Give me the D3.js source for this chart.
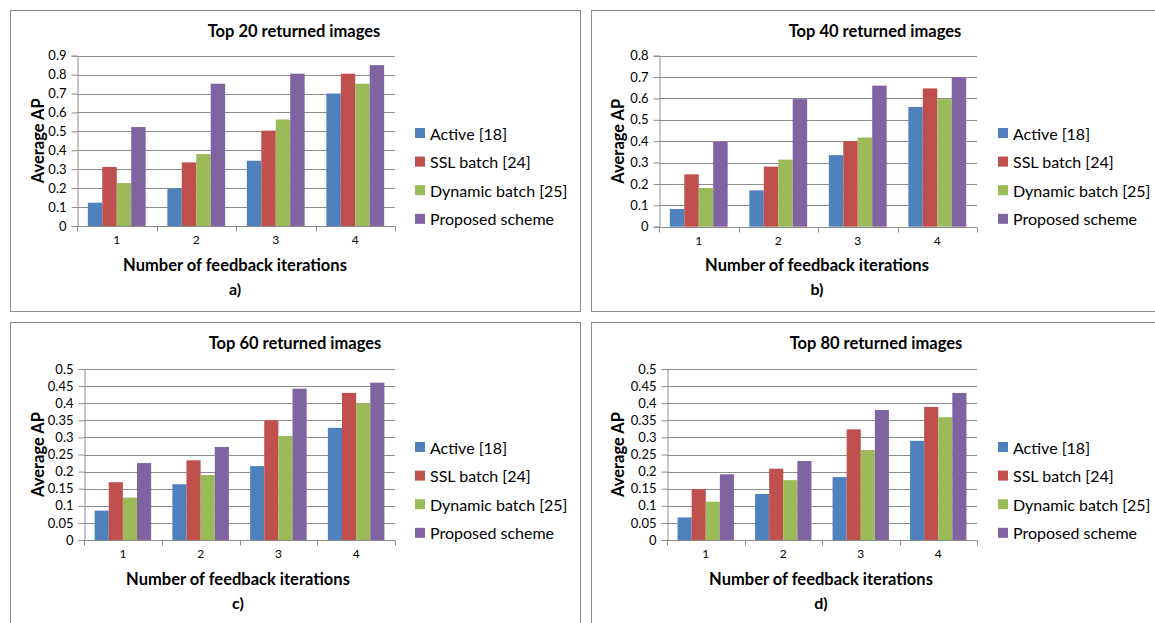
<!DOCTYPE html>
<html>
<head>
<meta charset="utf-8">
<script src="https://cdn.jsdelivr.net/npm/d3@7"></script>
<style>
  html, body { margin: 0; padding: 0; background: #fff; }
  svg { display: block; }
  text { font-family: Lato, "Open Sans", sans-serif; fill: #000; }
</style>
</head>
<body>
<svg id="chart" width="1155" height="623"></svg>
<script>
// Feedback iterations on the x axis
const iterations = ["1", "2", "3", "4"];
const seriesNames = ["Active [18]", "SSL batch [24]", "Dynamic batch [25]", "Proposed scheme"];
const seriesColors = ["#4F81BD", "#C0504D", "#9BBB59", "#8064A2"];

// Average AP per method (rows follow seriesNames), one array per retrieval depth
const top20 = [
  [0.123, 0.199, 0.345, 0.70],
  [0.312, 0.336, 0.504, 0.805],
  [0.227, 0.38, 0.563, 0.752],
  [0.523, 0.752, 0.805, 0.85]
];
const top40 = [
  [0.083, 0.17, 0.335, 0.56],
  [0.245, 0.281, 0.401, 0.647],
  [0.181, 0.314, 0.417, 0.597],
  [0.398, 0.597, 0.66, 0.699]
];
const top60 = [
  [0.086, 0.163, 0.216, 0.328],
  [0.169, 0.233, 0.35, 0.43],
  [0.124, 0.19, 0.304, 0.40],
  [0.225, 0.272, 0.4425, 0.46]
];
const top80 = [
  [0.066, 0.1345, 0.184, 0.29],
  [0.149, 0.2086, 0.3236, 0.389],
  [0.112, 0.175, 0.263, 0.359],
  [0.192, 0.231, 0.38, 0.43]
];

// Y-axis tick values for each panel
const ticks20 = [0, 0.1, 0.2, 0.3, 0.4, 0.5, 0.6, 0.7, 0.8, 0.9];
const ticks40 = [0, 0.1, 0.2, 0.3, 0.4, 0.5, 0.6, 0.7, 0.8];
const ticks60 = [0, 0.05, 0.1, 0.15, 0.2, 0.25, 0.3, 0.35, 0.4, 0.45, 0.5];
const ticks80 = [0, 0.05, 0.1, 0.15, 0.2, 0.25, 0.3, 0.35, 0.4, 0.45, 0.5];

const titles = ["Top 20 returned images", "Top 40 returned images", "Top 60 returned images", "Top 80 returned images"];
const panelLabels = ["a)", "b)", "c)", "d)"];

const svg = d3.select("#chart");

// Frame, plot area and text anchors of each panel
const layout = [
  { frame: [10.5, 10.5, 570, 301], plot: [77, 395, 55.7, 226], titleX: 294, titleY: 31, yTitleX: 38, xTitleX: 235, xTitleY: 265, labelY: 288, legendX: 415, legendY: 133 },
  { frame: [591.5, 10.5, 620, 301], plot: [659, 977, 55.7, 226.7], titleX: 875, titleY: 31, yTitleX: 618, xTitleX: 817, xTitleY: 265, labelY: 288, legendX: 998, legendY: 133 },
  { frame: [10.5, 322.5, 570, 400], plot: [84, 395, 369, 540], titleX: 295, titleY: 343, yTitleX: 38, xTitleX: 238, xTitleY: 579, labelY: 602, legendX: 415, legendY: 447 },
  { frame: [591.5, 322.5, 620, 400], plot: [667, 977, 369, 540], titleX: 876, titleY: 343, yTitleX: 618, xTitleX: 821, xTitleY: 579, labelY: 602, legendX: 998, legendY: 447 }
];

const panelData = [top20, top40, top60, top80];
const panelTicks = [ticks20, ticks40, ticks60, ticks80];

const fmt = v => String(+v.toFixed(2));

panelData.forEach((data, p) => {
  const L = layout[p];
  const ticks = panelTicks[p];
  const [x0, x1, yTop, yZero] = L.plot;
  const g = svg.append("g");

  g.append("rect")
    .attr("x", L.frame[0]).attr("y", L.frame[1])
    .attr("width", L.frame[2]).attr("height", L.frame[3])
    .attr("fill", "none").attr("stroke", "#8c8c8c").attr("stroke-width", 1);

  const y = d3.scaleLinear().domain([0, d3.max(ticks)]).range([yZero, yTop]);
  const xGroup = d3.scaleBand().domain(iterations).range([x0, x1]).paddingInner(0).paddingOuter(0);
  // Excel-style gap width of 150%: 4 bars + 1.5 bar widths of gap per group
  const bw = xGroup.bandwidth() / 5.5;
  const xSeries = d3.scaleBand().domain(d3.range(seriesNames.length))
    .range([bw * 0.75, bw * 0.75 + bw * 4]).padding(0);

  // Gridlines
  g.append("g").selectAll("line").data(ticks.filter(t => t > 0)).join("line")
    .attr("x1", x0).attr("x2", x1)
    .attr("y1", d => Math.round(y(d)) + 0.5).attr("y2", d => Math.round(y(d)) + 0.5)
    .attr("stroke", "#8c8c8c").attr("stroke-width", 1);

  // Bars
  data.forEach((vals, s) => {
    g.append("g").selectAll("rect").data(vals).join("rect")
      .attr("x", (d, i) => xGroup(iterations[i]) + xSeries(s))
      .attr("y", d => y(d))
      .attr("width", xSeries.bandwidth())
      .attr("height", d => yZero - y(d))
      .attr("fill", seriesColors[s]);
  });

  // Y axis
  const yAxis = d3.axisLeft(y).tickValues(ticks).tickFormat(fmt).tickSize(6).tickPadding(5);
  const ya = g.append("g").attr("transform", `translate(${Math.round(x0) + 0.5},0)`).call(yAxis);
  ya.select(".domain").attr("stroke", "#8c8c8c");
  ya.selectAll(".tick line").attr("stroke", "#8c8c8c");
  ya.selectAll(".tick text").style("font-family", "Lato, sans-serif").style("font-size", "13px").attr("fill", "#000");

  // X axis: tick marks on category boundaries, labels centred in each group
  const xa = g.append("g").attr("transform", `translate(0,${Math.round(yZero) + 0.5})`);
  xa.append("line").attr("x1", x0).attr("x2", x1).attr("stroke", "#8c8c8c");
  const bounds = iterations.map(c => xGroup(c)).concat([x1]);
  xa.selectAll("line.tk").data(bounds).join("line").attr("class", "tk")
    .attr("x1", d => Math.round(d) + 0.5).attr("x2", d => Math.round(d) + 0.5)
    .attr("y1", 0).attr("y2", 5).attr("stroke", "#8c8c8c");
  xa.selectAll("text").data(iterations).join("text")
    .attr("x", d => xGroup(d) + xGroup.bandwidth() / 2)
    .attr("y", 17).attr("text-anchor", "middle")
    .style("font-size", "12px").text(d => d);

  // Titles
  g.append("text").attr("x", L.titleX).attr("y", L.titleY).attr("text-anchor", "middle")
    .attr("dominant-baseline", "central").style("font-size", "16.5px").style("font-weight", "bold")
    .text(titles[p]);
  g.append("text")
    .attr("transform", `translate(${L.yTitleX},${(yTop + yZero) / 2}) rotate(-90)`)
    .attr("text-anchor", "middle").attr("dominant-baseline", "central")
    .style("font-size", "16.5px").style("font-weight", "bold").text("Average AP");
  g.append("text").attr("x", L.xTitleX).attr("y", L.xTitleY).attr("text-anchor", "middle")
    .attr("dominant-baseline", "central").style("font-size", "16.5px").style("font-weight", "bold")
    .text("Number of feedback iterations");
  g.append("text").attr("x", L.xTitleX).attr("y", L.labelY).attr("text-anchor", "middle")
    .attr("dominant-baseline", "central").style("font-size", "16px").style("font-weight", "bold")
    .text(panelLabels[p]);

  // Legend
  const lg = g.append("g").attr("transform", `translate(${L.legendX},${L.legendY})`);
  seriesNames.forEach((name, s) => {
    const row = lg.append("g").attr("transform", `translate(0,${s * 28.6})`);
    row.append("rect").attr("x", 0).attr("y", -5).attr("width", 10).attr("height", 10).attr("fill", seriesColors[s]);
    row.append("text").attr("x", 15).attr("y", 0).attr("dominant-baseline", "central")
      .style("font-size", "16px").text(name);
  });
});
</script>
</body>
</html>
